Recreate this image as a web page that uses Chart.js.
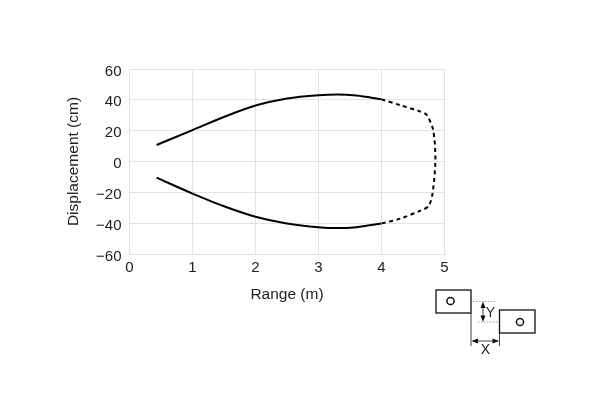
<!DOCTYPE html>
<html lang="en">
<head>
<meta charset="UTF-8">
<title>Displacement vs Range</title>
<script src="https://cdn.jsdelivr.net/npm/chart.js"></script>
<style>
    html, body { margin: 0; padding: 0; background: #fff; }
    #wrap { width: 598px; height: 418px; }
</style>
</head>
<body>
<div id="wrap"><canvas id="rangeChart" width="598" height="418"></canvas></div>

<script>
// values
const upperRange = [0.43, 1, 1.5, 2, 2.5, 3, 3.3, 3.6, 4];
const upperDisp = [10.7, 20.4, 28.9, 36.3, 40.9, 43, 43.5, 42.8, 40.3];
const lowerRange = [0.43, 1, 1.5, 2, 2.5, 3, 3.3, 3.6, 4];
const lowerDisp = [-10.5, -20.8, -29, -35.8, -40.2, -42.6, -43.2, -42.6, -40.2];
const dashRange = [4, 4.3, 4.61, 4.717, 4.82, 4.855, 4.81, 4.745, 4.61, 4.3, 4];
const dashDisp = [40.3, 36.5, 32.5, 30.2, 20.4, 1, -20.7, -29, -32, -37, -40.2];

const xMin = 0, xMax = 5, xStep = 1;
const yMin = -60, yMax = 60, yStep = 20;
const fontFamily = '"Liberation Sans", Arial, sans-serif';

function toPoints(xs, ys) {
    return xs.map((x, i) => ({ x: x, y: ys[i] }));
}

// little offset sketch under the plot, bottom right
const insetPlugin = {
    id: 'inset',
    afterDraw(chart) {
        const c = chart.ctx;
        c.save();
        c.strokeStyle = '#111';
        c.lineWidth = 1.3;
        c.strokeRect(436, 290, 35, 23);
        c.strokeRect(499.5, 310, 35.5, 23);
        c.lineWidth = 1.5;
        c.beginPath(); c.arc(450.5, 301, 3.6, 0, Math.PI * 2); c.stroke();
        c.beginPath(); c.arc(520, 322, 3.6, 0, Math.PI * 2); c.stroke();

        c.lineWidth = 0.8;
        c.beginPath();
        c.moveTo(471, 313); c.lineTo(471, 346);
        c.moveTo(499.5, 333); c.lineTo(499.5, 346);
        c.moveTo(473, 341); c.lineTo(498, 341);
        c.moveTo(483, 304); c.lineTo(483, 320);
        c.stroke();

        c.fillStyle = '#111';
        const arrows = [
            [471.5, 341, 478, 338.5, 478, 343.5],
            [499, 341, 492.5, 338.5, 492.5, 343.5],
            [483, 301.5, 480.5, 308, 485.5, 308],
            [483, 322, 480.5, 315.5, 485.5, 315.5]
        ];
        arrows.forEach(a => {
            c.beginPath();
            c.moveTo(a[0], a[1]); c.lineTo(a[2], a[3]); c.lineTo(a[4], a[5]);
            c.closePath(); c.fill();
        });

        c.strokeStyle = '#888';
        c.setLineDash([1.5, 1.5]);
        c.beginPath();
        c.moveTo(473, 301.5); c.lineTo(495, 301.5);
        c.moveTo(478, 322); c.lineTo(499, 322);
        c.stroke();
        c.setLineDash([]);

        c.font = '14px ' + fontFamily;
        c.fillStyle = '#222';
        c.textAlign = 'center';
        c.textBaseline = 'middle';
        c.fillText('Y', 490.5, 313);
        c.fillText('X', 485.5, 350);
        c.restore();
    }
};

new Chart(document.getElementById('rangeChart').getContext('2d'), {
    type: 'scatter',
    data: {
        datasets: [
            { data: toPoints(upperRange, upperDisp), showLine: true, cubicInterpolationMode: 'monotone', borderColor: '#000', borderWidth: 2, pointRadius: 0 },
            { data: toPoints(lowerRange, lowerDisp), showLine: true, cubicInterpolationMode: 'monotone', borderColor: '#000', borderWidth: 2, pointRadius: 0 },
            { data: toPoints(dashRange, dashDisp), showLine: true, tension: 0.3, borderColor: '#000', borderWidth: 2, borderDash: [4, 3.5], pointRadius: 0 }
        ]
    },
    options: {
        responsive: false,
        animation: false,
        layout: { padding: { left: 64, right: 153.5, top: 69, bottom: 114 } },
        plugins: { legend: { display: false }, tooltip: { enabled: false } },
        scales: {
            x: {
                type: 'linear', min: xMin, max: xMax,
                afterFit(scale) { scale.height = 50; },
                ticks: { stepSize: xStep, color: '#222', padding: 5, maxRotation: 0, font: { family: fontFamily, size: 15 } },
                grid: { color: '#e2e2e2', lineWidth: 1, drawTicks: false },
                border: { color: '#e2e2e2' },
                title: { display: true, text: 'Range (m)', color: '#222', font: { family: fontFamily, size: 15.5 }, padding: 0 }
            },
            y: {
                type: 'linear', min: yMin, max: yMax,
                afterFit(scale) { scale.width = 65.5; },
                ticks: { stepSize: yStep, color: '#222', padding: 8, labelOffset: 2.5, font: { family: fontFamily, size: 15 },
                    callback: v => v < 0 ? '\u2212' + Math.abs(v) : String(v) },
                grid: { color: '#e2e2e2', lineWidth: 1, drawTicks: false },
                border: { color: '#e2e2e2' },
                title: { display: true, text: 'Displacement (cm)', color: '#222', font: { family: fontFamily, size: 15.5 }, padding: 0 }
            }
        }
    },
    plugins: [insetPlugin]
});
</script>
</body>
</html>
